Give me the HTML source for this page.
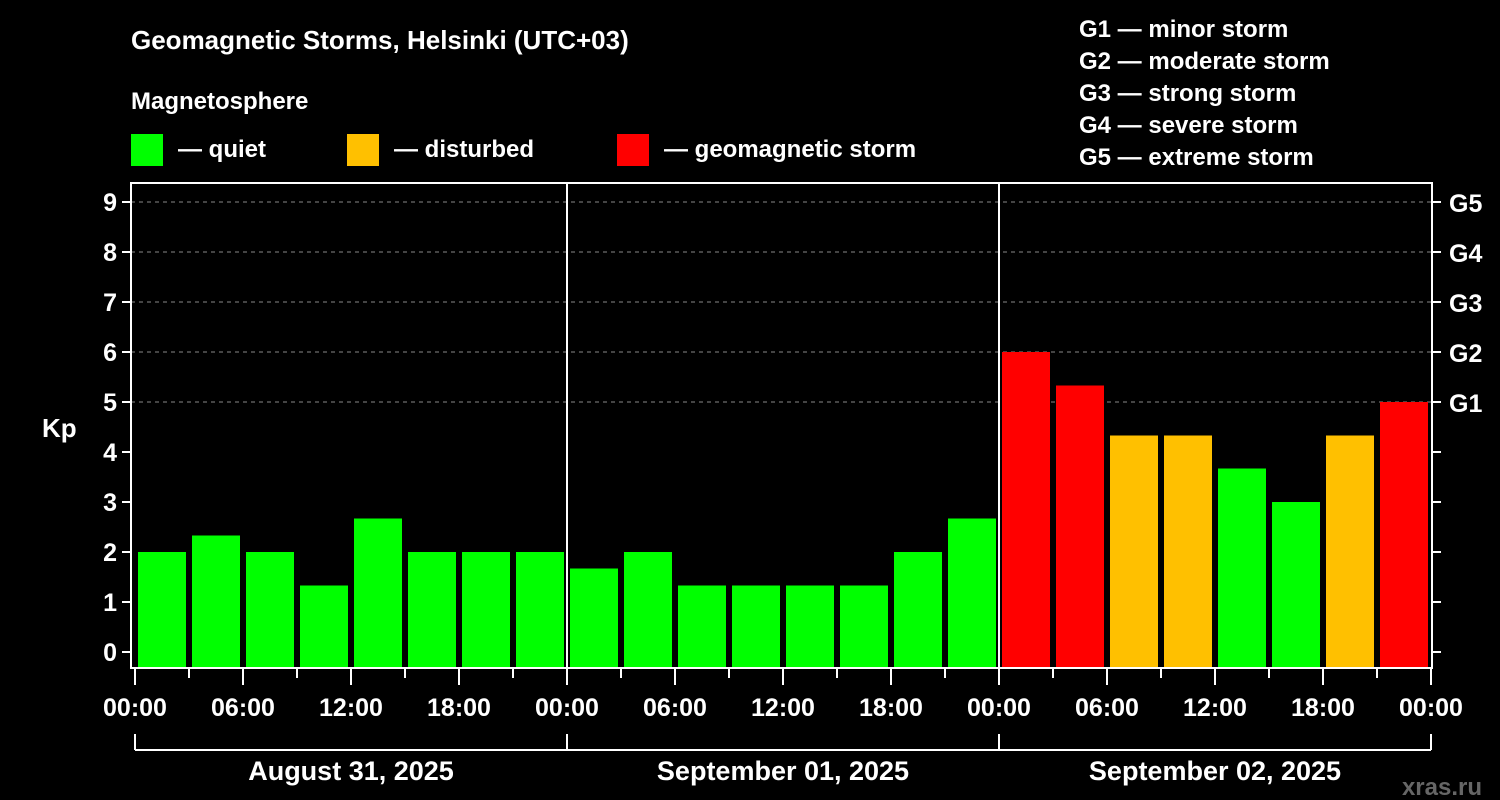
<!DOCTYPE html>
<html><head><meta charset="utf-8"><style>
body{margin:0;background:#000;}
svg{display:block;font-family:"Liberation Sans",Arial,sans-serif;font-weight:bold;}
</style></head><body>
<svg id="c" width="1500" height="800" viewBox="0 0 1500 800">
<rect width="1500" height="800" fill="#000"/>
<text x="131" y="49" fill="#fff" font-size="26">Geomagnetic Storms, Helsinki (UTC+03)</text>
<text x="131" y="109" fill="#fff" font-size="24">Magnetosphere</text>
<g><rect x="131" y="134" width="32" height="32" fill="#00ff00"/><text x="178" y="157" fill="#fff" font-size="24">— quiet</text></g>
<g><rect x="347" y="134" width="32" height="32" fill="#ffc000"/><text x="394" y="157" fill="#fff" font-size="24">— disturbed</text></g>
<g><rect x="617" y="134" width="32" height="32" fill="#ff0000"/><text x="664" y="157" fill="#fff" font-size="24">— geomagnetic storm</text></g>
<g fill="#fff" font-size="24">
<text x="1079" y="37">G1 — minor storm</text>
<text x="1079" y="69">G2 — moderate storm</text>
<text x="1079" y="101">G3 — strong storm</text>
<text x="1079" y="133">G4 — severe storm</text>
<text x="1079" y="165">G5 — extreme storm</text>
</g>
<text x="42" y="437" fill="#fff" font-size="26">Kp</text>
<text x="1482" y="795" fill="#666" font-size="24" text-anchor="end">xras.ru</text>
<g id="grid"></g><g id="bars"></g><g id="axes"></g>
</svg>
<script>
const kpValues=[2,2.33,2,1.33,2.67,2,2,2, 1.67,2,1.33,1.33,1.33,1.33,2,2.67, 6,5.33,4.33,4.33,3.67,3,4.33,5];
const dayLabels=["August 31, 2025","September 01, 2025","September 02, 2025"];
const hourLabels=["00:00","06:00","12:00","18:00"];
const yTicks=[0,1,2,3,4,5,6,7,8,9];
const gLabels=["G1","G2","G3","G4","G5"];
const NS="http://www.w3.org/2000/svg";
const X0=135,SLOT=54,L=131,R=1432,T=183,B=668;
const y=k=>652-50*k;
const x=i=>X0+SLOT*i;
function mk(tag,attrs,parent,txt){const e=document.createElementNS(NS,tag);for(const k in attrs)e.setAttribute(k,attrs[k]);if(txt!=null)e.textContent=txt;document.getElementById(parent).appendChild(e);return e;}
yTicks.forEach(k=>{
 if(k>=5){const g=mk('line',{x1:L,x2:R,y1:y(k),y2:y(k),stroke:'#888','stroke-dasharray':'4,4','stroke-width':1},'grid');
 
 }
});
kpValues.forEach((v,i)=>{
 const col=v>=5?'#ff0000':(v>=4?'#ffc000':'#00ff00');
 const r=mk('rect',{x:x(i)+3,y:y(v),width:48,height:B-y(v),fill:col},'bars');
 
 
});
const ax='axes';
mk('rect',{x:L,y:T,width:R-L,height:B-T,fill:'none',stroke:'#fff','stroke-width':2},ax);
[1,2].forEach(d=>{const l=mk('line',{x1:x(8*d),x2:x(8*d),y1:T,y2:B,stroke:'#fff','stroke-width':2},ax);
 
 });
yTicks.forEach(k=>{
 mk('line',{x1:L-9,x2:L,y1:y(k),y2:y(k),stroke:'#fff','stroke-width':2},ax);
 mk('line',{x1:R,x2:R+9,y1:y(k),y2:y(k),stroke:'#fff','stroke-width':2},ax);
 const t=mk('text',{x:L-14,y:y(k)+9,fill:'#fff','font-size':25,'text-anchor':'end'},ax,String(k));
 
 
 if(k>=5){const g=mk('text',{x:R+17,y:y(k)+10,fill:'#fff','font-size':25},ax,gLabels[k-5]);
 
 }
});
for(let i=0;i<=24;i++){
 const major=i%2===0;
 mk('line',{x1:x(i),x2:x(i),y1:B,y2:B+(major?17:10),stroke:'#fff','stroke-width':2},ax);
 if(major){const lab=i===24?hourLabels[0]:hourLabels[(i/2)%4];
 const t=mk('text',{x:x(i),y:716,fill:'#fff','font-size':25,'text-anchor':'middle'},ax,lab);
 
 }
}
mk('line',{x1:x(0),x2:x(24),y1:750,y2:750,stroke:'#fff','stroke-width':2},ax);
for(let d=0;d<=3;d++)mk('line',{x1:x(8*d),x2:x(8*d),y1:734,y2:750,stroke:'#fff','stroke-width':2},ax);
dayLabels.forEach((s,d)=>{const t=mk('text',{x:x(8*d+4),y:780,fill:'#fff','font-size':27,'text-anchor':'middle'},ax,s);
 
 });
</script>
</body></html>
